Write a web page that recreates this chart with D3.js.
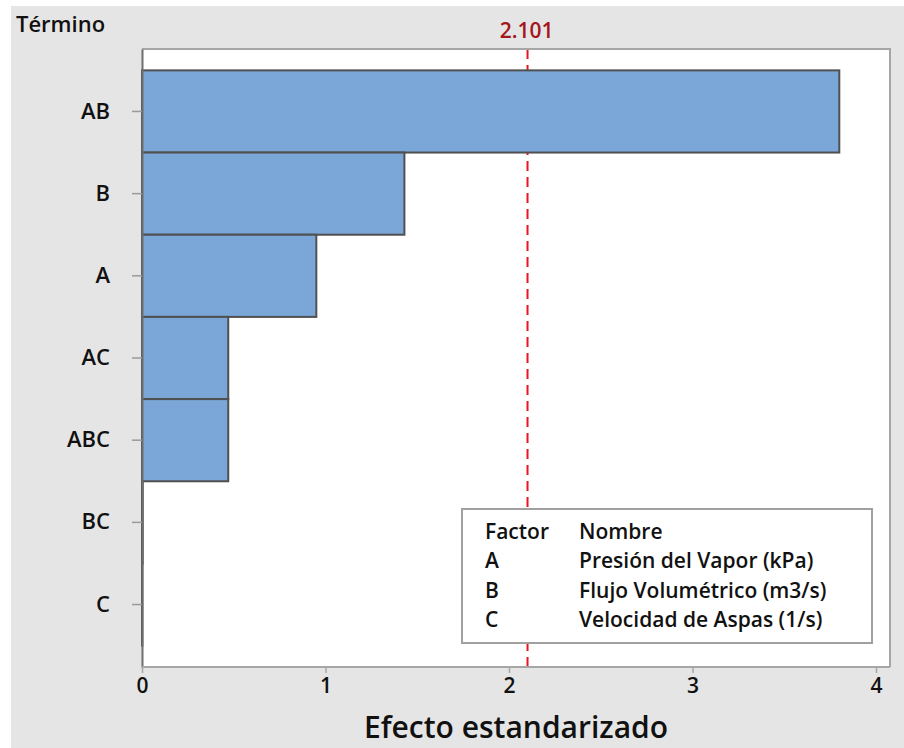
<!DOCTYPE html>
<html>
<head>
<meta charset="utf-8">
<script src="https://cdn.jsdelivr.net/npm/d3@7"></script>
<style>
  html, body { margin: 0; padding: 0; background: #ffffff; }
  svg { display: block; }
  text { font-family: "Open Sans", "Noto Sans", sans-serif; fill: #111; }
</style>
</head>
<body>
<div id="chart"></div>
<script>
// Standardized effects (Pareto of effects)
const terms = ["AB", "B", "A", "AC", "ABC", "BC", "C"];
const effects = [3.80, 1.43, 0.95, 0.47, 0.47, 0.004, 0.002];
const xTicks = [0, 1, 2, 3, 4];
const criticalValue = 2.101;
const legendFactors = ["A", "B", "C"];
const legendNames = ["Presión del Vapor (kPa)", "Flujo Volumétrico (m3/s)", "Velocidad de Aspas (1/s)"];

const W = 904, H = 748;
const plot = { left: 142, top: 49, right: 890, bottom: 667 };

const svg = d3.select("#chart").append("svg")
  .attr("width", W).attr("height", H);

// grey frame background
svg.append("rect").attr("x", 11).attr("y", 6)
  .attr("width", W - 11).attr("height", H - 6).attr("fill", "#e5e5e5");

// plot area
svg.append("rect")
  .attr("x", plot.left).attr("y", plot.top)
  .attr("width", plot.right - plot.left).attr("height", plot.bottom - plot.top)
  .attr("fill", "#ffffff");

const x = d3.scaleLinear().domain([0, 4]).range([plot.left, 876]);
const y = d3.scaleBand().domain(terms).range([plot.top, plot.bottom])
  .paddingInner(0).paddingOuter(0.26);

// reference line (behind the bars)
svg.append("line")
  .attr("x1", x(criticalValue)).attr("x2", x(criticalValue))
  .attr("y1", plot.top).attr("y2", plot.bottom)
  .attr("stroke", "#e8141b").attr("stroke-width", 2)
  .attr("stroke-dasharray", "10,6");

svg.append("text")
  .attr("x", x(criticalValue) - 1).attr("y", 38)
  .attr("text-anchor", "middle")
  .style("font-size", "21px").style("font-weight", 600).style("fill", "#a3161c")
  .text(criticalValue.toFixed(3));

// bars
svg.append("g").selectAll("rect")
  .data(terms.map((t, i) => ({ t, v: effects[i] })))
  .join("rect")
  .attr("x", x(0))
  .attr("y", d => y(d.t))
  .attr("width", d => x(d.v) - x(0))
  .attr("height", y.bandwidth())
  .attr("fill", "#7ba6d8")
  .attr("stroke", "#505050")
  .attr("stroke-width", 2);

// plot frame: top and right
svg.append("path")
  .attr("d", `M${plot.left},${plot.top}H${plot.right}V${plot.bottom}`)
  .attr("fill", "none").attr("stroke", "#a6a6a6").attr("stroke-width", 2);

// y axis
const yAxis = svg.append("g")
  .attr("transform", `translate(${plot.left},0)`)
  .call(d3.axisLeft(y).tickSize(10).tickSizeOuter(0).tickPadding(22));
yAxis.select(".domain").attr("stroke", "#6e6e6e").attr("stroke-width", 2);
yAxis.selectAll(".tick line").attr("stroke", "#9a9a9a").attr("stroke-width", 1.5);
yAxis.selectAll(".tick text")
  .style("font-size", "22px").style("font-weight", 600).style("fill", "#111")
  .style("font-family", "'Open Sans', sans-serif");

// x axis
const xAxis = svg.append("g")
  .attr("transform", `translate(0,${plot.bottom})`)
  .call(d3.axisBottom(x).tickValues(xTicks).tickFormat(d3.format("d"))
    .tickSize(6).tickSizeOuter(0).tickPadding(5));
xAxis.select(".domain").attr("stroke", "#a6a6a6").attr("stroke-width", 2)
  .attr("d", `M${plot.left},0H${plot.right}`);
xAxis.selectAll(".tick line").attr("stroke", "#a6a6a6").attr("stroke-width", 1.5);
xAxis.selectAll(".tick text")
  .style("font-size", "21px").style("font-weight", 600).style("fill", "#111")
  .style("font-family", "'Open Sans', sans-serif");

// titles
svg.append("text").attr("x", 16).attr("y", 32)
  .style("font-size", "22px").style("font-weight", 600)
  .text("Término");

svg.append("text").attr("x", (plot.left + plot.right) / 2).attr("y", 738)
  .attr("text-anchor", "middle")
  .style("font-size", "30px").style("font-weight", 600)
  .text("Efecto estandarizado");

// factor legend
const lg = svg.append("g");
lg.append("rect").attr("x", 462).attr("y", 509).attr("width", 410).attr("height", 134)
  .attr("fill", "#ffffff").attr("stroke", "#a0a0a0").attr("stroke-width", 2);
const rowY = [539, 568, 598, 627];
const col1 = ["Factor", ...legendFactors];
const col2 = ["Nombre", ...legendNames];
col1.forEach((t, i) => lg.append("text").attr("x", 485).attr("y", rowY[i])
  .style("font-size", "21px").style("font-weight", 600).text(t));
col2.forEach((t, i) => lg.append("text").attr("x", 579).attr("y", rowY[i])
  .style("font-size", "21px").style("font-weight", 600).text(t));
</script>
</body>
</html>
